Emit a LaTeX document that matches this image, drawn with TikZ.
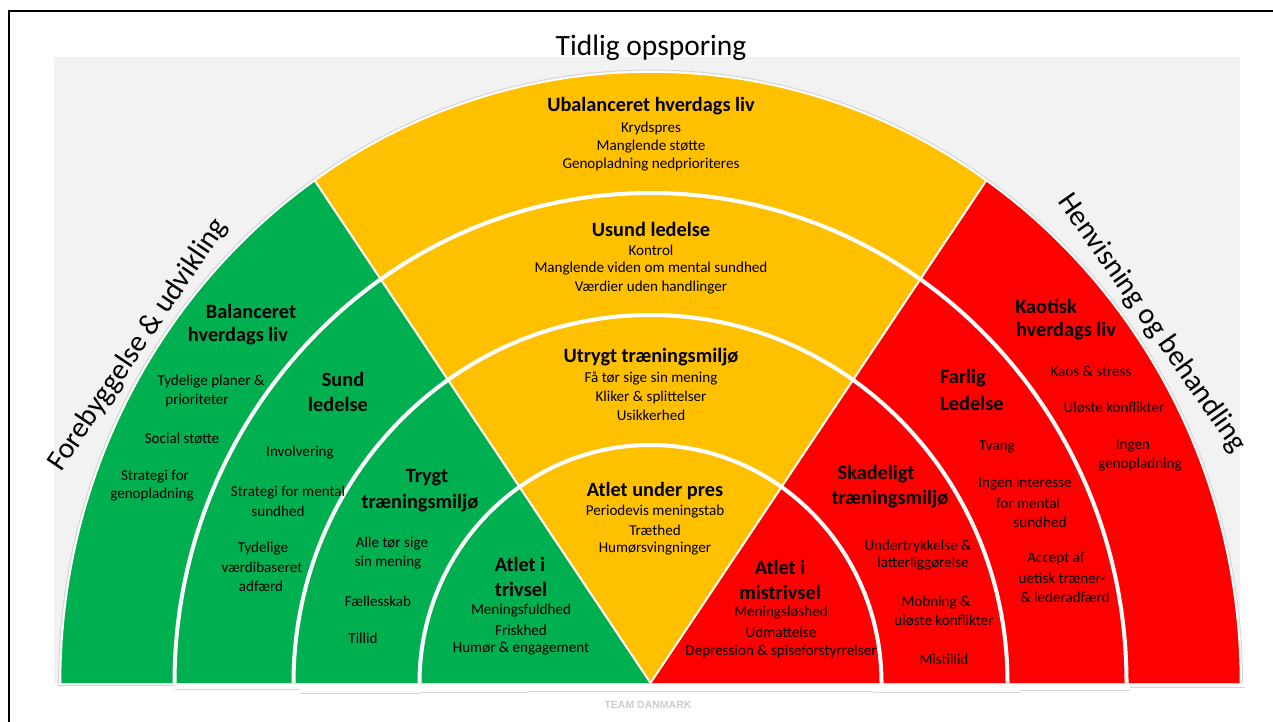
\documentclass[tikz,border=0pt]{standalone}
\usepackage{fontspec}
\setmainfont{Carlito}
\newfontfamily\arialf{Liberation Sans}
\definecolor{cgreen}{HTML}{00B050}
\definecolor{cyellow}{HTML}{FFC000}
\definecolor{cred}{HTML}{FF0000}
\definecolor{cbg}{HTML}{F2F2F2}
\definecolor{cshadow}{HTML}{D4D4D4}
\definecolor{cteam}{HTML}{CDCDCD}
\begin{document}
\begin{tikzpicture}[x=1pt,y=-1pt,
  hd/.style={font=\fontsize{20.3}{22}\selectfont\bfseries, inner sep=0pt},
  tx/.style={font=\fontsize{15.1}{17}\selectfont, inner sep=0pt},
  big/.style={font=\fontsize{29.5}{32}\selectfont, inner sep=0pt},
  ringsep/.style={white, line width=4pt},
  wedgesep/.style={white, line width=2pt},
  shadowline/.style={cshadow, line width=0.8pt}]
\useasboundingbox (0,0) rectangle (1273,722);
\fill[white] (0,0) rectangle (1273,722);
% grey background panel
\fill[cbg] (54,57) rectangle (1240,684);
\coordinate (C) at (650.5,683);
\coordinate (GL) at (148,-69);
\coordinate (GR) at (1153,-69);
% coloured sectors
\begin{scope}
\clip (C) ++(-590,0) arc[start angle=180,end angle=360,x radius=590,y radius=611] -- cycle;
\fill[cgreen] (C) -- (GL) -- (0,-100) -- (0,683) -- cycle;
\fill[cyellow] (C) -- (GL) -- (GR) -- cycle;
\fill[cred] (C) -- (GR) -- (1300,-100) -- (1300,683) -- cycle;
\draw[wedgesep] (C) -- (GL);
\draw[wedgesep] (C) -- (GR);
\draw[ringsep] (C) ++(-231,0) arc[start angle=180,end angle=360,x radius=231,y radius=238];
\draw[ringsep] (C) ++(-357,0) arc[start angle=180,end angle=360,x radius=357,y radius=368];
\draw[ringsep] (C) ++(-476,0) arc[start angle=180,end angle=360,x radius=476,y radius=490];
\end{scope}
% outer rim
\draw[cshadow, line width=0.8pt] (C) ++(-592,0) arc[start angle=180,end angle=360,x radius=592,y radius=613];
\draw[white, line width=1.6pt] (C) ++(-590,0) arc[start angle=180,end angle=360,x radius=590,y radius=611];
% bottom strip and faint shadow lines
\fill[white] (50,684) rectangle (1250,700);
\draw[shadowline] (57,685) -- (175,685);
\draw[shadowline] (175,689) -- (300,689);
\draw[shadowline] (300,693) -- (420,693);
\draw[shadowline] (420,692) -- (528,692);
\draw[shadowline] (528,691) -- (780,691);
\draw[shadowline] (780,691) -- (873,691);
\draw[shadowline] (873,692) -- (1020,692);
\draw[shadowline] (1020,690) -- (1130,690);
\draw[shadowline] (1130,687) -- (1245,687);
% frame
\draw[black, line width=2pt] (9,722) -- (9,11) -- (1273,11);

% titles
\node[big] (title) at (651,48) {Tidlig opsporing};
\node[big, rotate=56] (left) at (138,345) {Forebyggelse \& udvikling};
\node[big, rotate=-55] (right) at (1152,323) {Henvisning og behandling};
\node[font=\arialf\fontsize{10.5}{12}\selectfont\bfseries, text=cteam, inner sep=0pt] (team) at (648,705) {TEAM DANMARK};

% yellow outer band
\node[hd] (y1h) at (651,106) {Ubalanceret hverdags liv};
\node[tx] (y1a) at (651,128) {Krydspres};
\node[tx] (y1b) at (651,147) {Manglende støtte};
\node[tx] (y1c) at (651,165) {Genopladning nedprioriteres};
% yellow band 3
\node[hd] (y2h) at (651,229) {Usund ledelse};
\node[tx] (y2a) at (651,250) {Kontrol};
\node[tx] (y2b) at (651,269) {Manglende viden om mental sundhed};
\node[tx] (y2c) at (651,288) {Værdier uden handlinger};
% yellow band 2
\node[hd] (y3h) at (651,357) {Utrygt træningsmiljø};
\node[tx] (y3a) at (651,378) {Få tør sige sin mening};
\node[tx] (y3b) at (651,397) {Kliker \& splittelser};
\node[tx] (y3c) at (651,415) {Usikkerhed};
% yellow inner
\node[hd] (y4h) at (655,491) {Atlet under pres};
\node[tx] (y4a) at (655,512) {Periodevis meningstab};
\node[tx] (y4b) at (655,530) {Træthed};
\node[tx] (y4c) at (655,549) {Humørsvingninger};

% green outer band
\node[hd] (g1h1) at (251,311) {Balanceret};
\node[hd] (g1h2) at (238,336) {hverdags liv};
\node[tx] (g1a1) at (211,382) {Tydelige planer \&};
\node[tx] (g1a2) at (197,401) {prioriteter};
\node[tx] (g1b) at (182,439) {Social støtte};
\node[tx] (g1c1) at (155,477) {Strategi for};
\node[tx] (g1c2) at (152,495) {genopladning};
% green band 3
\node[hd] (g2h1) at (343,379) {Sund};
\node[hd] (g2h2) at (338,404) {ledelse};
\node[tx] (g2a) at (300,453) {Involvering};
\node[tx] (g2b1) at (288,493) {Strategi for mental};
\node[tx] (g2b2) at (278,511) {sundhed};
\node[tx] (g2c1) at (263,549) {Tydelige};
\node[tx] (g2c2) at (262,567) {værdibaseret};
\node[tx] (g2c3) at (261,586) {adfærd};
% green band 2
\node[hd] (g3h1) at (427,478) {Trygt};
\node[hd] (g3h2) at (420,503) {træningsmiljø};
\node[tx] (g3a1) at (392,544) {Alle tør sige};
\node[tx] (g3a2) at (388,563) {sin mening};
\node[tx] (g3b) at (378,601) {Fællesskab};
\node[tx] (g3c) at (363,638) {Tillid};
% green inner
\node[hd] (g4h1) at (520,564) {Atlet i};
\node[hd] (g4h2) at (521,589) {trivsel};
\node[tx] (g4a) at (521,611) {Meningsfuldhed};
\node[tx] (g4b) at (521,630) {Friskhed};
\node[tx] (g4c) at (521,649) {Humør \& engagement};

% red inner
\node[hd] (r4h1) at (780,567) {Atlet i};
\node[hd] (r4h2) at (780,592) {mistrivsel};
\node[tx] (r4a) at (781,613) {Meningsløshed};
\node[tx] (r4b) at (781,632) {Udmattelse};
\node[tx] (r4c) at (781,651) {Depression \& spiseforstyrrelser};
% red band 2
\node[hd] (r3h1) at (876,474) {Skadeligt};
\node[hd] (r3h2) at (890,499) {træningsmiljø};
\node[tx] (r3a1) at (918,546) {Undertrykkelse \&};
\node[tx] (r3a2) at (923,564) {latterliggørelse};
\node[tx] (r3b1) at (936,603) {Mobning \&};
\node[tx] (r3b2) at (944,621) {uløste konflikter};
\node[tx] (r3c) at (944,659) {Mistillid};
% red band 3
\node[hd] (r2h1) at (963,378) {Farlig};
\node[hd] (r2h2) at (972,403) {Ledelse};
\node[tx] (r2a) at (997,447) {Tvang};
\node[tx] (r2b1) at (1025,484) {Ingen interesse};
\node[tx] (r2b2) at (1028,503) {for mental};
\node[tx] (r2b3) at (1040,522) {sundhed};
\node[tx] (r2c1) at (1056,559) {Accept af};
\node[tx] (r2c2) at (1062,578) {uetisk træner-};
\node[tx] (r2c3) at (1065,597) {\& lederadfærd};
% red outer band
\node[hd] (r1h1) at (1046,306) {Kaotisk};
\node[hd] (r1h2) at (1066,331) {hverdags liv};
\node[tx] (r1a) at (1091,371) {Kaos \& stress};
\node[tx] (r1b) at (1114,408) {Uløste konflikter};
\node[tx] (r1c1) at (1133,446) {Ingen};
\node[tx] (r1c2) at (1140,465) {genopladning};
\end{tikzpicture}
\end{document}
